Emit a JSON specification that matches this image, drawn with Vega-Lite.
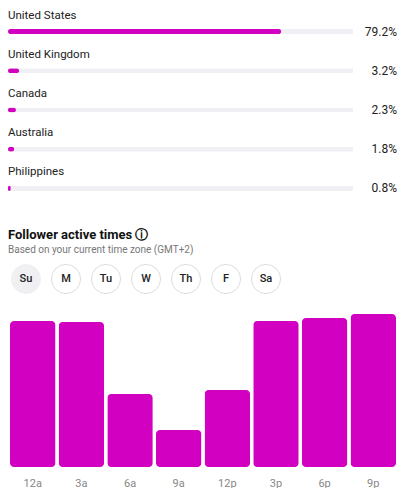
{
  "$schema": "https://vega.github.io/schema/vega-lite/v6.json",
  "padding": 0,
  "config": {
    "view": {"stroke": null},
    "font": "Roboto",
    "concat": {"spacing": 15}
  },
  "datasets": {
    "countries": [
      {"country": "United States", "pct": 79.2, "full": 100},
      {"country": "United Kingdom", "pct": 3.2, "full": 100},
      {"country": "Canada", "pct": 2.3, "full": 100},
      {"country": "Australia", "pct": 1.8, "full": 100},
      {"country": "Philippines", "pct": 0.8, "full": 100}
    ],
    "days": [
      {"day": "Su", "selected": true},
      {"day": "M", "selected": false},
      {"day": "Tu", "selected": false},
      {"day": "W", "selected": false},
      {"day": "Th", "selected": false},
      {"day": "F", "selected": false},
      {"day": "Sa", "selected": false}
    ],
    "times": [
      {"time": "12a", "activity": 146},
      {"time": "3a", "activity": 145},
      {"time": "6a", "activity": 73},
      {"time": "9a", "activity": 37},
      {"time": "12p", "activity": 77},
      {"time": "3p", "activity": 146},
      {"time": "6p", "activity": 149},
      {"time": "9p", "activity": 153}
    ]
  },
  "vconcat": [
    {
      "width": 404,
      "height": 214,
      "data": {"name": "countries"},
      "transform": [
        {"calculate": "format(datum.pct, '.1f') + '%'", "as": "label"}
      ],
      "encoding": {
        "y": {"field": "country", "type": "nominal", "sort": null, "axis": null,
              "scale": {"paddingInner": 0, "paddingOuter": 0, "range": [0, 196]}}
      },
      "layer": [
        {
          "mark": {"type": "bar", "height": 5, "yOffset": 12, "color": "#EFEFF4", "cornerRadius": 1},
          "encoding": {
            "x": {"field": "full", "type": "quantitative", "axis": null,
                  "scale": {"domain": [0, 100], "range": [8, 353]}}
          }
        },
        {
          "mark": {"type": "bar", "height": 5, "yOffset": 12, "color": "#D200C0", "cornerRadius": 2.5},
          "encoding": {
            "x": {"field": "pct", "type": "quantitative"}
          }
        },
        {
          "mark": {"type": "text", "align": "left", "baseline": "middle", "dy": -4, "fontSize": 11.5, "color": "#222222"},
          "encoding": {
            "x": {"datum": 0, "type": "quantitative"},
            "text": {"field": "country"}
          }
        },
        {
          "mark": {"type": "text", "align": "right", "baseline": "middle", "dy": 12, "dx": -7, "fontSize": 12, "color": "#222222"},
          "encoding": {
            "x": {"value": "width"},
            "text": {"field": "label"}
          }
        }
      ]
    },
    {
      "width": 404,
      "height": 40,
      "title": {
        "text": "Follower active times ⓘ",
        "subtitle": "Based on your current time zone (GMT+2)",
        "anchor": "start",
        "frame": "group",
        "dx": 8,
        "fontSize": 13,
        "fontWeight": "bold",
        "color": "#111111",
        "subtitleFontSize": 10,
        "subtitleColor": "#777777",
        "subtitlePadding": 3,
        "offset": 4
      },
      "data": {"name": "days"},
      "encoding": {
        "x": {"field": "day", "type": "nominal", "sort": null, "axis": null,
              "scale": {"type": "point", "range": [26, 266], "padding": 0}}
      },
      "layer": [
        {
          "mark": {"type": "point", "shape": "circle", "filled": true, "size": 850, "strokeWidth": 1, "opacity": 1},
          "encoding": {
            "fill": {"condition": {"test": "datum.selected", "value": "#F0F0F2"}, "value": "#FFFFFF"},
            "stroke": {"condition": {"test": "datum.selected", "value": "#F0F0F2"}, "value": "#DDDDDD"}
          }
        },
        {
          "mark": {"type": "text", "fontSize": 11, "fontWeight": 500, "color": "#222222", "baseline": "middle"},
          "encoding": {"text": {"field": "day"}}
        }
      ]
    },
    {
      "width": 404,
      "height": 153,
      "data": {"name": "times"},
      "mark": {"type": "bar", "color": "#D200C0", "cornerRadius": 4},
      "encoding": {
        "x": {"field": "time", "type": "nominal", "sort": null, "title": null,
              "scale": {"range": [10, 396], "paddingInner": 0.065, "paddingOuter": 0},
              "axis": {"domain": false, "ticks": false, "labelAngle": 0, "labelColor": "#888888", "labelFontSize": 11, "labelPadding": 10, "labelFont": "Roboto"}},
        "y": {"field": "activity", "type": "quantitative", "axis": null,
              "scale": {"domain": [0, 153], "nice": false}}
      }
    }
  ]
}
